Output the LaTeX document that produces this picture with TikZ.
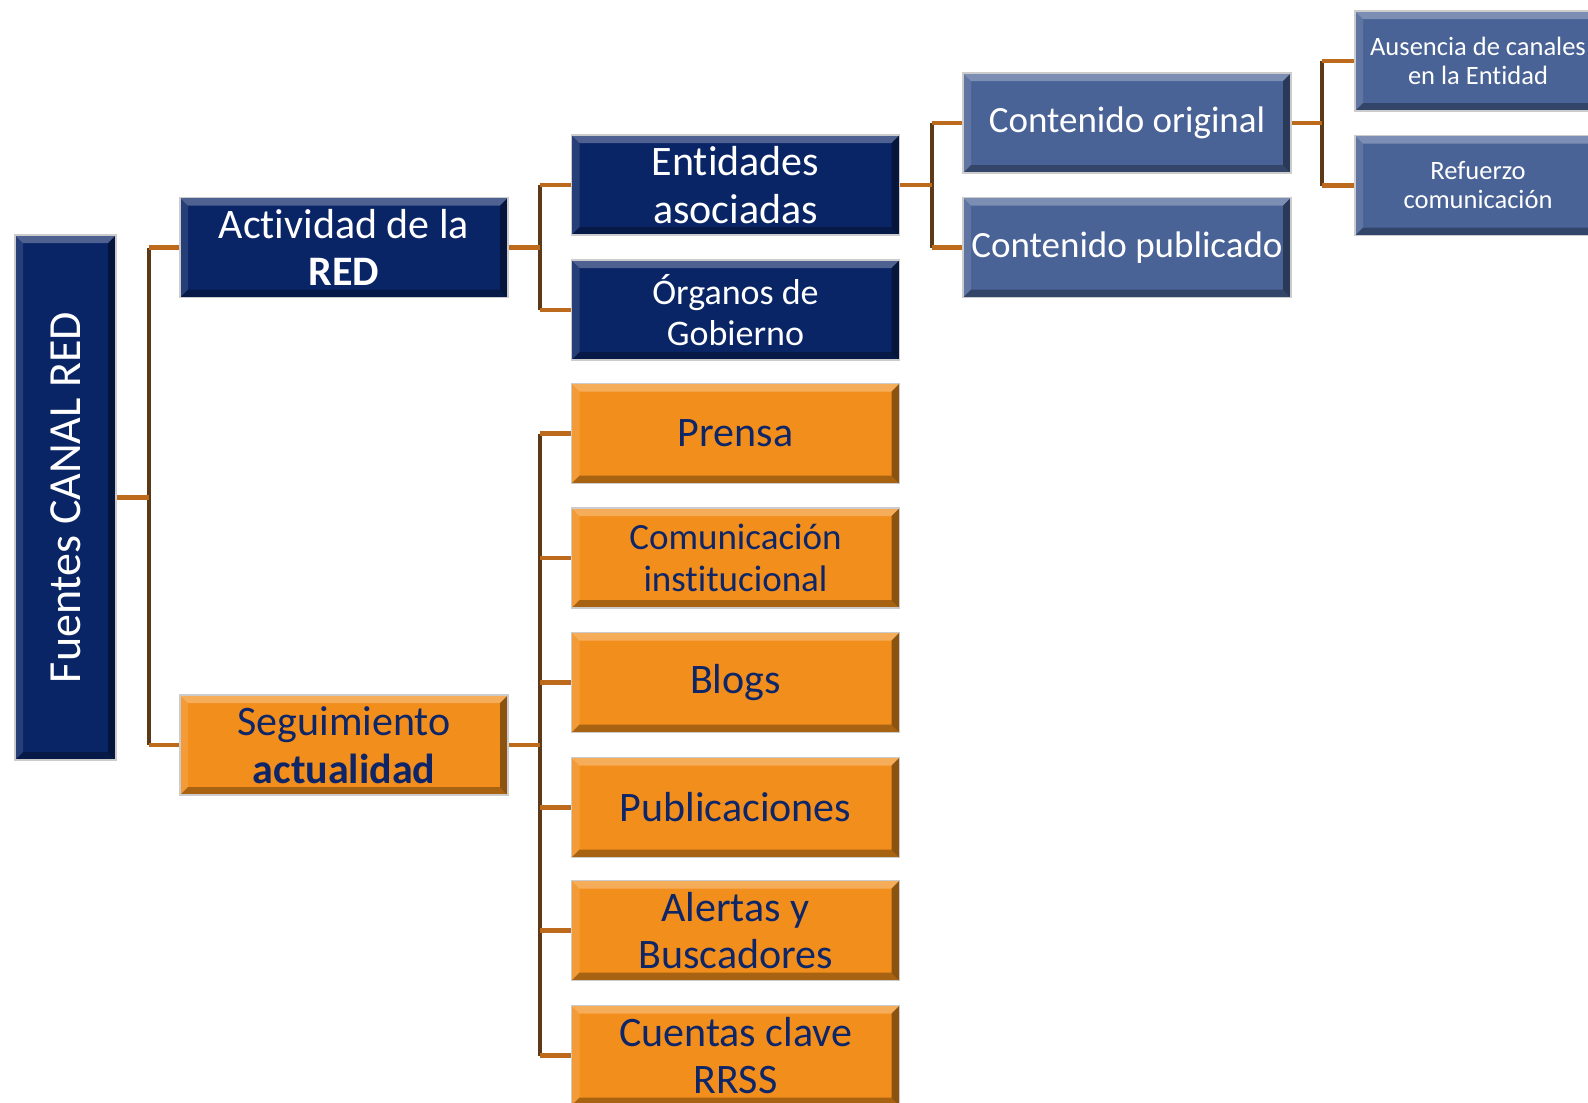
\documentclass[tikz,border=0pt]{standalone}
\usepackage{fontspec}
\setmainfont{Carlito}[Ligatures=NoCommon]
\usepackage{tikz}
\usetikzlibrary{positioning}

\definecolor{navybox}{RGB}{10,37,102}
\definecolor{steelbox}{RGB}{74,99,150}
\definecolor{orangebox}{RGB}{242,142,27}
\definecolor{navytext}{RGB}{14,38,104}
\definecolor{linkorange}{RGB}{190,106,28}
\definecolor{linkdark}{RGB}{92,58,23}

\begin{document}
\begin{tikzpicture}[x=1pt, y=-1pt]
	\tikzstyle{Bevel}	= [path picture={
		\fill[white, opacity=0.28] (path picture bounding box.north west) -- (path picture bounding box.north east) -- ([shift={(-8pt,-8pt)}]path picture bounding box.north east) -- ([shift={(8pt,-8pt)}]path picture bounding box.north west) -- cycle;
		\fill[white, opacity=0.12] (path picture bounding box.north west) -- ([shift={(8pt,-8pt)}]path picture bounding box.north west) -- ([shift={(8pt,8pt)}]path picture bounding box.south west) -- (path picture bounding box.south west) -- cycle;
		\fill[black, opacity=0.30] (path picture bounding box.south west) -- (path picture bounding box.south east) -- ([shift={(-8pt,8pt)}]path picture bounding box.south east) -- ([shift={(8pt,8pt)}]path picture bounding box.south west) -- cycle;
		\fill[black, opacity=0.42] (path picture bounding box.north east) -- ([shift={(-8pt,-8pt)}]path picture bounding box.north east) -- ([shift={(-8pt,8pt)}]path picture bounding box.south east) -- (path picture bounding box.south east) -- cycle;
	}]
	\tikzstyle{Box}		= [rectangle, draw=gray!40, line width=1.5pt, inner sep=0pt, minimum width=328pt, minimum height=100pt, align=center, Bevel]
	\tikzstyle{Navy}	= [fill=navybox, text=white]
	\tikzstyle{Steel}	= [fill=steelbox, text=white]
	\tikzstyle{Orange}	= [fill=orangebox, text=navytext]
	\tikzstyle{Big}		= [font=\fontsize{42}{47.5}\selectfont]
	\tikzstyle{Mid}		= [font=\fontsize{37}{42.5}\selectfont]
	\tikzstyle{Small}	= [font=\fontsize{26.5}{29}\selectfont]
	\tikzstyle{Link}	= [line width=3.5pt, linkdark]
	\tikzstyle{Stub}	= [line width=4.5pt, linkorange]

	\clip (0,0) rectangle (1588,1103);

	\node (root) at (65.5, 497.5) [Box][Navy, minimum width=101pt, minimum height=525pt, font=\fontsize{46}{52}\selectfont] {\rotatebox{90}{Fuentes CANAL RED}};

	\node (act) at (344, 247.5) [Box][Navy, Big] {Actividad de la\\\textbf{RED}};
	\node (seg) at (344, 745) [Box][Orange, Big] {Seguimiento\\\textbf{actualidad}};

	\node (ent) at (735.5, 185) [Box][Navy, Big] {Entidades\\asociadas};
	\node (org) at (735.5, 310) [Box][Navy, font=\fontsize{36}{41.5}\selectfont] {Órganos de\\Gobierno};

	\node (prensa) at (735.5, 433.5) [Box][Orange, Big] {Prensa};
	\node (com) at (735.5, 558) [Box][Orange, Mid] {Comunicación\\institucional};
	\node (blogs) at (735.5, 682.5) [Box][Orange, Big] {Blogs};
	\node (pub) at (735.5, 807.5) [Box][Orange, Big] {Publicaciones};
	\node (alertas) at (735.5, 930.5) [Box][Orange, Big] {Alertas y\\Buscadores};
	\node (cuentas) at (735.5, 1055.5) [Box][Orange, Big] {Cuentas clave\\RRSS};

	\node (corig) at (1127, 123) [Box][Steel, Mid] {Contenido original};
	\node (cpub) at (1127, 247.5) [Box][Steel, Mid] {Contenido publicado};

	\node (aus) at (1478, 61) [Box][Steel, Small, minimum width=246pt] {Ausencia de canales\\en la Entidad};
	\node (ref) at (1478, 185.5) [Box][Steel, Small, minimum width=246pt] {Refuerzo\\comunicación};

	\coordinate (b1) at (149, 0);
	\coordinate (b2) at (540, 0);
	\coordinate (b3) at (932, 0);
	\coordinate (b4) at (1322, 0);

	% buses
	\draw [Link] (act.west -| b1) -- (seg.west -| b1);
	\draw [Link] (ent.west -| b2) -- (org.west -| b2);
	\draw [Link] (prensa.west -| b2) -- (cuentas.west -| b2);
	\draw [Link] (corig.west -| b3) -- (cpub.west -| b3);
	\draw [Link] (aus.west -| b4) -- (ref.west -| b4);

	% stubs
	\draw [Stub] (root.east) -- (root.east -| b1);
	\draw [Stub] (act.west -| b1) -- (act.west);
	\draw [Stub] (seg.west -| b1) -- (seg.west);

	\draw [Stub] (act.east) -- (act.east -| b2);
	\draw [Stub] (ent.west -| b2) -- (ent.west);
	\draw [Stub] (org.west -| b2) -- (org.west);

	\draw [Stub] (seg.east) -- (seg.east -| b2);
	\draw [Stub] (prensa.west -| b2) -- (prensa.west);
	\draw [Stub] (com.west -| b2) -- (com.west);
	\draw [Stub] (blogs.west -| b2) -- (blogs.west);
	\draw [Stub] (pub.west -| b2) -- (pub.west);
	\draw [Stub] (alertas.west -| b2) -- (alertas.west);
	\draw [Stub] (cuentas.west -| b2) -- (cuentas.west);

	\draw [Stub] (ent.east) -- (ent.east -| b3);
	\draw [Stub] (corig.west -| b3) -- (corig.west);
	\draw [Stub] (cpub.west -| b3) -- (cpub.west);

	\draw [Stub] (corig.east) -- (corig.east -| b4);
	\draw [Stub] (aus.west -| b4) -- (aus.west);
	\draw [Stub] (ref.west -| b4) -- (ref.west);
\end{tikzpicture}
\end{document}
